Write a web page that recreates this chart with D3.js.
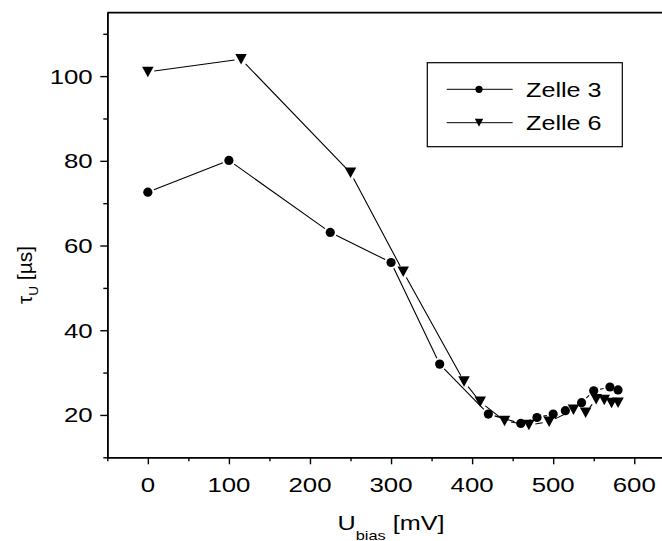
<!DOCTYPE html>
<html>
<head>
<meta charset="utf-8">
<script src="https://cdn.jsdelivr.net/npm/d3@7/dist/d3.min.js"></script>
<style>
  html, body { margin: 0; padding: 0; background: #fff; }
  svg { display: block; }
  text { font-family: "Liberation Sans", Arial, Helvetica, sans-serif; fill: #000; }
</style>
</head>
<body>
<svg id="chart" width="662" height="541"></svg>
<script>
// Bias voltage (mV) and time constant (µs) for the two cells
const zelle3X = [0, 100, 225, 300, 360, 420, 460, 480, 500, 515, 535, 550, 570, 580];
const zelle3Y = [72.6, 80.1, 63.1, 56.0, 32.0, 20.2, 18.0, 19.4, 20.2, 21.0, 22.9, 25.7, 26.6, 25.9];

const zelle6X = [0, 115, 250, 315, 390, 410, 440, 470, 495, 525, 540, 553, 563, 572, 580];
const zelle6Y = [101.0, 104.0, 77.2, 53.8, 27.9, 23.1, 18.6, 17.6, 18.4, 21.2, 20.5, 23.7, 23.5, 22.8, 22.9];

const seriesNames = ["Zelle 3", "Zelle 6"];
const xTickValues = [0, 100, 200, 300, 400, 500, 600];
const yTickValues = [20, 40, 60, 80, 100];

const svg = d3.select("#chart");
const stretch = 1.26;   // wide sans-serif lettering

const x = d3.scaleLinear().domain([-50, 650]).range([107.3, 674.8]);
const y = d3.scaleLinear().domain([10, 115]).range([457.3, 12.6]);

// frame: top and right edges
svg.append("path")
  .attr("d", `M${x(-50)},${y(115)}H${x(650)}V${y(10)}`)
  .attr("fill", "none").attr("stroke", "#000").attr("stroke-width", 1.6);

// axes with major and minor ticks
const xMinor = d3.range(-50, 651, 50).filter(v => !xTickValues.includes(v));
const yMinor = d3.range(10, 116, 10).filter(v => !yTickValues.includes(v));

function styleAxis(g) {
  g.selectAll("path.domain").attr("stroke-width", 1.6);
  g.selectAll(".tick line").attr("stroke-width", 1.4);
  g.selectAll("text").remove();
}

svg.append("g").attr("transform", `translate(0,${y(10)})`)
  .call(d3.axisBottom(x).tickValues(xTickValues).tickSize(7).tickSizeOuter(0))
  .call(styleAxis);
svg.append("g").attr("transform", `translate(0,${y(10)})`)
  .call(d3.axisBottom(x).tickValues(xMinor).tickSize(4).tickSizeOuter(0))
  .call(styleAxis);
svg.append("g").attr("transform", `translate(${x(-50)},0)`)
  .call(d3.axisLeft(y).tickValues(yTickValues).tickSize(7).tickSizeOuter(0))
  .call(styleAxis);
svg.append("g").attr("transform", `translate(${x(-50)},0)`)
  .call(d3.axisLeft(y).tickValues(yMinor).tickSize(4).tickSizeOuter(0))
  .call(styleAxis);

// tick labels
svg.append("g").selectAll("text").data(xTickValues).join("text")
  .attr("transform", d => `translate(${x(d)},${y(10) + 34.5}) scale(${stretch},1)`)
  .attr("text-anchor", "middle")
  .attr("font-size", 20.5)
  .text(d => d);

svg.append("g").selectAll("text").data(yTickValues).join("text")
  .attr("transform", d => `translate(${x(-50) - 14.6},${y(d) + 7.5}) scale(${stretch},1)`)
  .attr("text-anchor", "end")
  .attr("font-size", 20.5)
  .text(d => d);

// axis titles
const xt = svg.append("text")
  .attr("transform", `translate(${(x(-50) + x(650)) / 2},529.5) scale(${stretch},1)`)
  .attr("text-anchor", "middle")
  .attr("font-size", 20);
xt.append("tspan").text("U");
xt.append("tspan").attr("font-size", 13).attr("dy", 10).text("bias");
xt.append("tspan").attr("dy", -10).text(" [mV]");

const yt = svg.append("text")
  .attr("transform", `translate(32,275) rotate(-90) scale(1.05,1)`)
  .attr("text-anchor", "middle")
  .attr("font-size", 20);
yt.append("tspan").text("τ");
yt.append("tspan").attr("font-size", 13).attr("dy", 6).text("U");
yt.append("tspan").attr("dy", -6).text(" [µs]");

// connecting lines stop short of each marker
const gap = 6.5;
function gappedPath(xs, ys) {
  const pts = xs.map((v, i) => [x(v), y(ys[i])]);
  let d = "";
  for (let i = 0; i < pts.length - 1; i++) {
    const [x0, y0] = pts[i], [x1, y1] = pts[i + 1];
    const len = Math.hypot(x1 - x0, y1 - y0);
    if (len <= 2 * gap + 0.5) continue;
    const ux = (x1 - x0) / len, uy = (y1 - y0) / len;
    d += `M${x0 + ux * gap},${y0 + uy * gap}L${x1 - ux * gap},${y1 - uy * gap}`;
  }
  return d;
}

function triangle(cx, cy, w, h) {
  return `M${cx - w / 2},${cy - h / 2}L${cx + w / 2},${cy - h / 2}L${cx},${cy + h / 2}Z`;
}

svg.append("path").attr("d", gappedPath(zelle3X, zelle3Y))
  .attr("fill", "none").attr("stroke", "#000").attr("stroke-width", 1.1);
svg.append("path").attr("d", gappedPath(zelle6X, zelle6Y))
  .attr("fill", "none").attr("stroke", "#000").attr("stroke-width", 1.1);

svg.append("g").selectAll("circle").data(zelle3X).join("circle")
  .attr("cx", d => x(d))
  .attr("cy", (d, i) => y(zelle3Y[i]))
  .attr("r", 4.6)
  .attr("fill", "#000");

svg.append("g").selectAll("path").data(zelle6X).join("path")
  .attr("d", (d, i) => triangle(x(d), y(zelle6Y[i]), 11.5, 10.5))
  .attr("fill", "#000");

// legend
const lg = svg.append("g");
lg.append("rect")
  .attr("x", 427.3).attr("y", 62.7).attr("width", 195).attr("height", 84)
  .attr("fill", "#fff").attr("stroke", "#000").attr("stroke-width", 1.2);
const rows = [89.3, 122.7];
seriesNames.forEach((name, i) => {
  const ry = rows[i];
  lg.append("line").attr("x1", 446.7).attr("x2", 512.7).attr("y1", ry).attr("y2", ry)
    .attr("stroke", "#000").attr("stroke-width", 1);
  if (i === 0) {
    lg.append("circle").attr("cx", 479).attr("cy", ry).attr("r", 3.6).attr("fill", "#000");
  } else {
    lg.append("path").attr("d", triangle(479, ry, 8.5, 8)).attr("fill", "#000");
  }
  lg.append("text")
    .attr("transform", `translate(526,${ry + 7.2}) scale(${stretch},1)`)
    .attr("font-size", 20)
    .text(name);
});
</script>
</body>
</html>
